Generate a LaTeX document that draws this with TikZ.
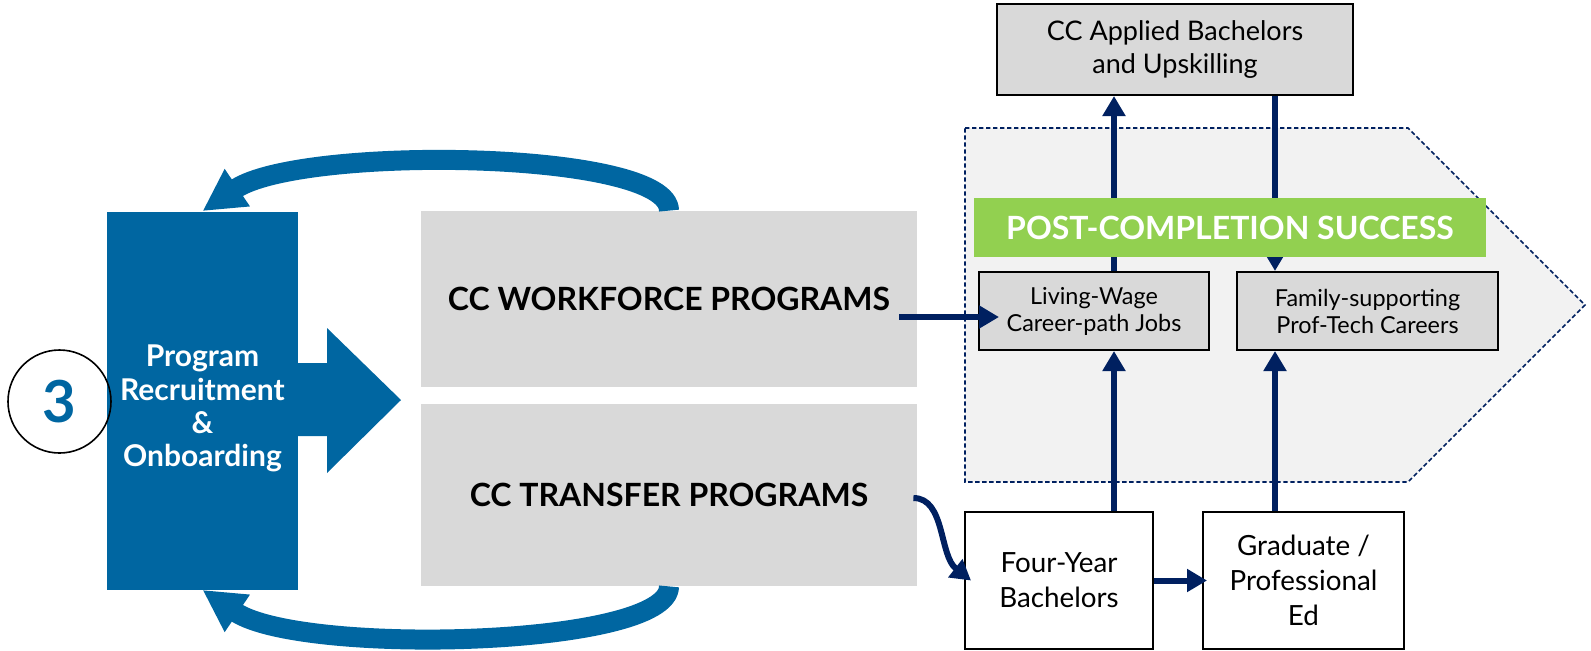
\documentclass[tikz,border=0pt]{standalone}
\usepackage{fontspec}
\setmainfont{Lato}
\usetikzlibrary{arrows.meta}
\definecolor{ccblue}{HTML}{0066A1}
\definecolor{ccnavy}{HTML}{002060}
\definecolor{ccgray}{HTML}{D9D9D9}
\definecolor{ccpale}{HTML}{F2F2F2}
\definecolor{ccgreen}{HTML}{92D050}
\begin{document}
\begin{tikzpicture}[x=0.5pt, y=-0.5pt,
	box/.style={draw=black, line width=1pt, align=center, inner sep=0pt, text=black},
	graybox/.style={box, fill=ccgray},
	whitebox/.style={box, fill=white, minimum height=68.5pt, font=\fontsize{13.9}{17.5}\selectfont},
	prog/.style={fill=ccgray, inner sep=0pt, minimum width=248pt, font=\fontsize{16}{19}\selectfont\bfseries},
	navarr/.style={draw=ccnavy, line width=3pt, -{Triangle[length=10pt,width=11pt]}},
	backloop/.style={draw=ccblue, line width=10pt, -{Triangle[length=21pt,width=21pt]}}]
	\useasboundingbox (0,0) rectangle (1591,650);
	% success region
	\filldraw[fill=ccpale, draw=ccnavy, line width=0.8pt, dash pattern=on 2.2pt off 1.3pt]
		(965,128) -- (1408,128) -- (1585,305) -- (1408,482) -- (965,482) -- cycle;
	% recruitment
	\node[fill=ccblue, minimum width=95.5pt, minimum height=189pt, inner sep=0pt] (rec) at (202.5,400.5) {};
	\node[text=white, align=center, inner sep=0pt, font=\fontsize{15}{16.6}\selectfont\bfseries]
		(rectext) at ([yshift=-4pt]rec.center) {Program\\Recruitment\\\&\\Onboarding};
	\fill[ccblue] (297,363) -- (327,363) -- (327,328) -- (401,400) -- (327,473) -- (327,436) -- (297,436) -- cycle;
	\node[circle, draw=black, line width=0.8pt, minimum size=51.5pt, inner sep=0pt, text=ccblue,
		font=\fontsize{29}{29}\selectfont\bfseries] (num) at (59.5,401.5) {3};
	% programs
	\node[prog, minimum height=88pt] (wf) at (669,299) {CC WORKFORCE PROGRAMS};
	\node[prog, minimum height=91pt] (tr) at (669,495) {CC TRANSFER PROGRAMS};
	\draw[backloop] (wf.north) .. controls +(0,-61) and +(98,-66) .. (rec.north);
	\draw[backloop] (tr.south) .. controls +(0,61) and +(98,66) .. (rec.south);
	% outcomes
	\node[graybox, minimum width=178pt, minimum height=45.5pt, font=\fontsize{13.5}{16.5}\selectfont] (app) at (1175,49.5) {CC Applied Bachelors\\and Upskilling};
	\node[graybox, minimum width=115pt, minimum height=39pt, font=\fontsize{11.7}{13.5}\selectfont] (lw) at (1094,311) {Living-Wage\\Career-path Jobs};
	\node[graybox, minimum width=130.5pt, minimum height=39pt, font=\fontsize{11.7}{13.5}\selectfont] (fam) at (1367.5,311) {Family-supporting\\Prof-Tech Careers};
	\node[whitebox, minimum width=94pt] (four) at (1059,580.5) {Four-Year\\Bachelors};
	\node[whitebox, minimum width=100.5pt] (grad) at (1303.5,580.5) {Graduate /\\Professional\\Ed};
	\coordinate (ca) at (1114,0);
	\coordinate (cb) at (1275,0);
	\draw[navarr] (lw.north -| ca) -- (app.south -| ca);
	\draw[navarr] (app.south -| cb) -- (fam.north -| cb);
	\draw[navarr] (four.north -| ca) -- (lw.south -| ca);
	\draw[navarr] (grad.north -| cb) -- (fam.south -| cb);
	\draw[navarr] (four.east) -- ([xshift=2.5pt]grad.west);
	\draw[navarr] ([xshift=-2pt,yshift=-1.5pt]tr.east) .. controls +(32,0) and +(-32,-25) .. ([xshift=3.5pt]four.west);
	\draw[navarr] ([xshift=-9pt,yshift=-9pt]wf.east) -- ([xshift=10.5pt,yshift=-3pt]lw.west);
	\node[fill=ccgreen, minimum width=256pt, minimum height=29.5pt, inner sep=0pt, text=white,
		font=\fontsize{16}{19}\selectfont\bfseries] (post) at (1230,227.5) {POST-COMPLETION SUCCESS};
\end{tikzpicture}
\end{document}
